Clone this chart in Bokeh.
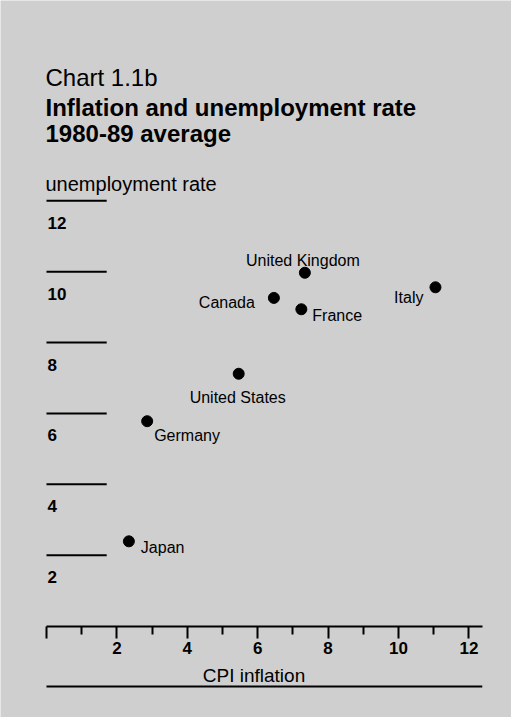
from bokeh.plotting import figure
from bokeh.models import Label, FixedTicker, Range1d, ColumnDataSource
from bokeh.core.properties import value
from bokeh.embed import file_html
from bokeh.resources import INLINE

# ---- data ----
countries = ["United Kingdom", "Canada", "France", "Italy", "United States", "Germany", "Japan"]
cpi_inflation = [7.34, 6.46, 7.24, 11.05, 5.46, 2.86, 2.34]
unemployment = [9.97, 9.26, 8.94, 9.56, 7.12, 5.78, 2.39]
x_ticks = [0, 2, 4, 6, 8, 10, 12]
x_minor_ticks = [1, 3, 5, 7, 9, 11]
y_ticks = [2, 4, 6, 8, 10, 12]
y_tick_labels = ["2", "4", "6", "8", "10", "12"]

# ---- label placement (styles) ----
label_align = ["center", "right", "left", "right", "center", "left", "left"]
label_dx = [-2, -19, 11, -12, -1, 7, 12]
label_dy = [-12, 5, 6, 10, 24, 14, 6]

FONT = "Liberation Sans"
BG = "#cfcfcf"
W, H = 511, 717
SX, SY = 35.2, 35.43           # pixels per unit
x0 = -46 / SX
x1 = x0 + W / SX
y1 = 625.5 / SY
y0 = y1 - H / SY
X_END = 12.38                  # right end of the x axis line
GRID_LEN = 1.71                # length of the short y reference lines
RULE_Y = y1 - 686 / SY         # bottom rule

p = figure(width=W, height=H, x_range=Range1d(x0, x1), y_range=Range1d(y0, y1),
           output_backend="svg", toolbar_location=None, min_border=0,
           background_fill_color=BG, border_fill_color=BG, outline_line_color=None)
p.grid.visible = False
p.yaxis.visible = False

xa = p.xaxis[0]
xa.fixed_location = 0
xa.bounds = (0, X_END)
xa.ticker = FixedTicker(ticks=x_ticks, minor_ticks=x_minor_ticks)
xa.major_label_overrides = {0: ""}
xa.axis_line_color = "black"
xa.axis_line_width = 2
xa.major_tick_line_color = "black"
xa.major_tick_line_width = 2
xa.major_tick_out = 12
xa.major_tick_in = 0
xa.minor_tick_line_color = "black"
xa.minor_tick_line_width = 2
xa.minor_tick_out = 8
xa.minor_tick_in = 0
xa.major_label_standoff = 4
xa.major_label_text_font = FONT
xa.major_label_text_font_style = "bold"
xa.major_label_text_font_size = "17px"
xa.major_label_text_color = "black"

# y reference lines and their labels
p.segment(x0=0, y0=y_ticks, x1=GRID_LEN, y1=y_ticks, line_color="black", line_width=2)
p.text(x=0, y=y_ticks, text=y_tick_labels, text_baseline="alphabetic", text_align="left",
       x_offset=1, y_offset=22, text_font=value(FONT), text_font_style="bold",
       text_font_size="17px", text_color="black")

# bottom rule
p.segment(x0=0, y0=RULE_Y, x1=X_END, y1=RULE_Y, line_color="black", line_width=2)

# points
src = ColumnDataSource(dict(x=cpi_inflation, y=unemployment, name=countries,
                            align=label_align, dx=label_dx, dy=label_dy))
p.scatter("x", "y", source=src, size=11, color="black")
p.text("x", "y", text="name", source=src, text_align="align", text_baseline="alphabetic",
       x_offset="dx", y_offset="dy", text_font=value(FONT), text_font_size="16px",
       text_color="black")

# titles (page coordinates: x from left, baseline y from top)
def lab(txt, x, y, size, style="normal", align="left"):
    p.add_layout(Label(x=x, y=H - y, x_units="screen", y_units="screen", text=txt,
                       text_font=FONT, text_font_size=size, text_font_style=style,
                       text_align=align, text_baseline="alphabetic", text_color="black"))

lab("Chart 1.1b", 45, 77.3, "24px")
lab("Inflation and unemployment rate", 45, 106.7, "24px", "bold")
lab("1980-89 average", 45, 133.3, "24px", "bold")
lab("unemployment rate", 45, 183.3, "20px")
lab("CPI inflation", 253.5, 675, "19px", align="center")

open("out.html", "w").write(file_html(p, INLINE))
